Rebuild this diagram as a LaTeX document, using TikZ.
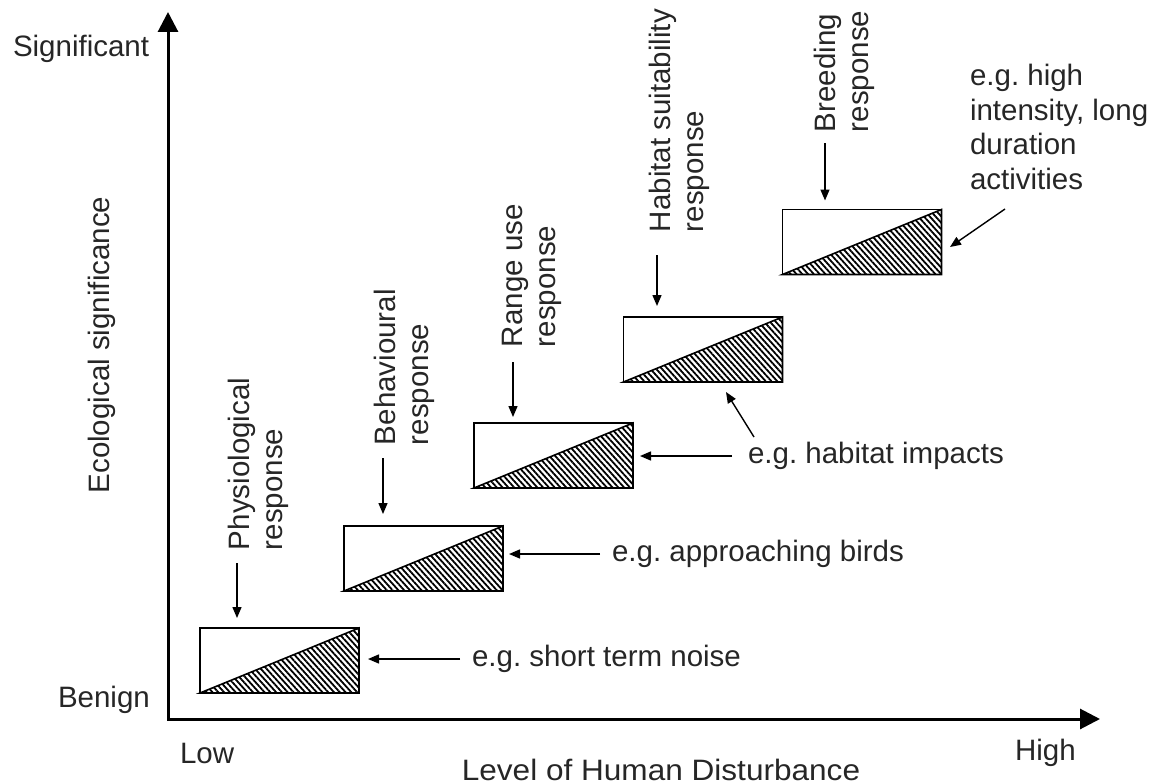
\documentclass[tikz,border=0pt]{standalone}
\usepackage{fontspec}
\setmainfont{Liberation Sans}
\usetikzlibrary{arrows.meta,patterns.meta}
\frenchspacing
\begin{document}
\begin{tikzpicture}[x=1pt,y=-1pt,
  font=\fontsize{29.5}{33}\selectfont,
  every node/.style={inner sep=0pt, outer sep=0pt, text=black!85},
  box/.style={draw, line width=1.8pt, minimum width=159pt, minimum height=65pt},
  hatch/.style={pattern={Lines[angle=-48,distance=4.3pt,line width=1.8pt]}},
  arr/.style={line width=1.4pt, -{Triangle[length=11pt,width=9pt]}},
  axis/.style={line width=3pt, line join=miter, {Triangle[length=20pt,width=20pt]}-{Triangle[length=20pt,width=20pt]}},
  vlab/.style={rotate=90, align=left, anchor=west},
  elab/.style={anchor=west}
]
\path[use as bounding box] (0,0) rectangle (1157,784);

% axes
\coordinate (O) at (168,719);
\coordinate (Ytip) at (168,12);
\coordinate (Xtip) at (1100,719);
\draw[axis] (Ytip) -- (O) -- (Xtip);

% axis labels
\node[anchor=base west] (sig) at (13,57) {Significant};
\node[anchor=base west] (ben) at (58,707) {Benign};
\node[anchor=base west] (low) at (180,763) {Low};
\node[anchor=base west] (high) at (1015,760) {High};
\node[anchor=base, xscale=1.07] (lvl) at (661,780) {Level of Human Disturbance};
\node[rotate=90] (eco) at (102,345) {Ecological significance};

% boxes
\node[box] (b1) at (279.5,660.5) {};
\node[box] (b2) at (423.5,558.5) {};
\node[box] (b3) at (553.5,455.5) {};
\node[box] (b4) at (703,349.5) {};
\node[box] (b5) at (862,242) {};
\foreach \b in {b1,b2,b3,b4,b5}{
  \fill[hatch] (\b.south west) -- (\b.north east) -- (\b.south east) -- cycle;
  \draw[line width=1.6pt, line join=miter] (\b.south west) -- (\b.north east) -- (\b.south east) -- cycle;
}

% response labels
\node[vlab] (l1) at (258,550) {Physiological\\response};
\node[vlab] (l2) at (404,445) {Behavioural\\response};
\node[vlab] (l3) at (532,347) {Range use\\response};
\node[vlab] (l4) at (679,232) {Habitat suitability\\response};
\node[vlab] (l5) at (844,132) {Breeding\\response};

\coordinate (t1) at (237,563);
\coordinate (t2) at (383,458);
\coordinate (t3) at (513,362);
\coordinate (t4) at (657,255);
\coordinate (t5) at (825,143);
\draw[arr, shorten >=10pt] (t1) -- (t1 |- b1.north);
\draw[arr, shorten >=12pt] (t2) -- (t2 |- b2.north);
\draw[arr, shorten >=6pt] (t3) -- (t3 |- b3.north);
\draw[arr, shorten >=11pt] (t4) -- (t4 |- b4.north);
\draw[arr, shorten >=9pt] (t5) -- (t5 |- b5.north);

% example labels
\node[elab] (e1) at (472,659) {e.g. short term noise};
\node[elab] (e2) at (612,554) {e.g. approaching birds};
\node[elab] (e3) at (748,456) {e.g. habitat impacts};
\node[anchor=north west, align=left, font=\fontsize{29.5}{34.5}\selectfont] (e5) at (970,64.5) {e.g. high\\intensity, long\\duration\\activities};

\draw[arr, shorten <=12pt, shorten >=9pt] (e1.west) -- (e1.west -| b1.east);
\draw[arr, shorten <=12pt, shorten >=6pt] (e2.west) -- (e2.west -| b2.east);
\draw[arr, shorten <=16pt, shorten >=7pt] (e3.west) -- (e3.west -| b3.east);

\coordinate (d3s) at (754,437);
\coordinate (d3e) at (726,392);
\draw[arr] (d3s) -- (d3e);
\coordinate (d5s) at (1005,209);
\coordinate (d5e) at (950,247);
\draw[arr] (d5s) -- (d5e);
\end{tikzpicture}
\end{document}
